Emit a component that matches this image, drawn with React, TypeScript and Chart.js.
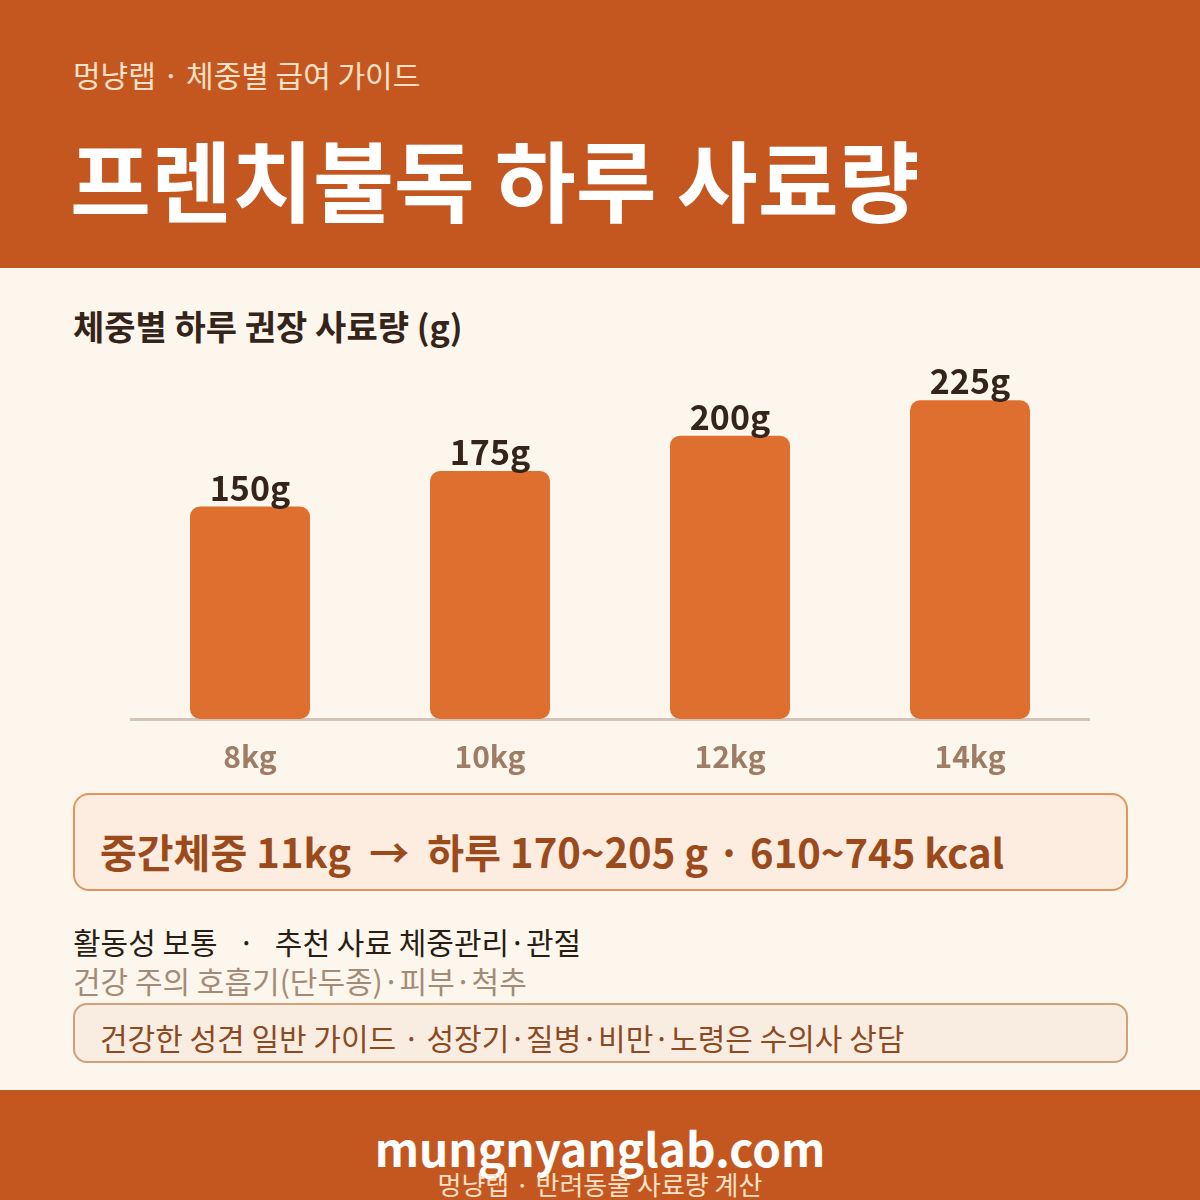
import React, { useEffect, useRef } from "react";
import { Chart, registerables } from "chart.js";

Chart.register(...registerables);

const categories = ["8kg", "10kg", "12kg", "14kg"];
const feedGrams = [150, 175, 200, 225];
const valueLabels = ["150g", "175g", "200g", "225g"];

const FONT = "'Noto Sans CJK KR', 'Noto Sans', sans-serif";

const valueLabelPlugin = {
  id: "valueLabels",
  afterDatasetsDraw(chart: any) {
    const ctx = chart.ctx;
    const meta = chart.getDatasetMeta(0);
    ctx.save();
    ctx.font = `700 34px ${FONT}`;
    ctx.fillStyle = "#35241A";
    ctx.textAlign = "center";
    ctx.textBaseline = "alphabetic";
    meta.data.forEach((bar: any, i: number) => {
      ctx.fillText(valueLabels[i], bar.x, bar.y - 6);
    });
    ctx.restore();
  },
};

function BarChart() {
  const ref = useRef<HTMLCanvasElement | null>(null);
  useEffect(() => {
    if (!ref.current) return;
    const chart = new Chart(ref.current, {
      type: "bar",
      data: {
        labels: categories,
        datasets: [
          {
            data: feedGrams,
            backgroundColor: "#DF6F2F",
            borderRadius: 10,
            borderSkipped: false,
            barPercentage: 0.5,
            categoryPercentage: 1,
          },
        ],
      },
      options: {
        responsive: false,
        animation: false,
        maintainAspectRatio: false,
        layout: { padding: 0 },
        plugins: { legend: { display: false }, tooltip: { enabled: false } },
        scales: {
          x: {
            grid: { display: false, drawTicks: false },
            border: { display: true, color: "#D5C4B5", width: 3 },
            ticks: {
              color: "#9E7C66",
              font: { family: FONT, size: 30, weight: "bold" },
              padding: 20,
            },
          },
          y: {
            display: false,
            min: 0,
            max: 300,
          },
        },
      },
      plugins: [valueLabelPlugin],
    });
    return () => chart.destroy();
  }, []);
  return (
    <canvas
      ref={ref}
      width={960}
      height={501}
      style={{ position: "absolute", left: 130, top: 294, width: 960, height: 501 }}
    />
  );
}

export default function App() {
  useEffect(() => {
    document.body.style.margin = "0";
  }, []);
  const abs = (s: React.CSSProperties): React.CSSProperties => ({
    position: "absolute",
    whiteSpace: "nowrap",
    fontFamily: FONT,
    lineHeight: 1,
    ...s,
  });
  return (
    <div
      style={{
        position: "fixed",
        left: 0,
        top: 0,
        width: 1200,
        height: 1200,
        background: "#FDF6EC",
        overflow: "hidden",
        fontFamily: FONT,
      }}
    >
      <div style={{ position: "absolute", left: 0, top: 0, width: 1200, height: 268, background: "#C4571F" }} />
      <div style={abs({ left: 73, top: 59, fontSize: 30, color: "#FCE1C6" })}>멍냥랩 · 체중별 급여 가이드</div>
      <div style={abs({ left: 70, top: 133, fontSize: 88, fontWeight: 700, color: "#FFFFFF" })}>
        프렌치불독 하루 사료량
      </div>
      <div style={abs({ left: 73, top: 309, fontSize: 34, fontWeight: 700, color: "#35241A" })}>
        체중별 하루 권장 사료량 (g)
      </div>
      <BarChart />
      <div
        style={{
          position: "absolute",
          left: 73,
          top: 793,
          width: 1055,
          height: 98,
          boxSizing: "border-box",
          border: "2px solid #E0955E",
          borderRadius: 16,
          background: "#FDECE0",
        }}
      />
      <div style={abs({ left: 100, top: 831, fontSize: 40, fontWeight: 700, color: "#9B4A1C" })}>
        중간체중 11kg &nbsp;→&nbsp; 하루 170~205 g · 610~745 kcal
      </div>
      <div style={abs({ left: 73, top: 926, fontSize: 30, color: "#2A1E14" })}>
        활동성 보통 &nbsp;&nbsp;· &nbsp;&nbsp;추천 사료 체중관리·관절
      </div>
      <div style={abs({ left: 73, top: 965, fontSize: 30, color: "#A38B78" })}>건강 주의 호흡기(단두종)·피부·척추</div>
      <div
        style={{
          position: "absolute",
          left: 73,
          top: 1003,
          width: 1055,
          height: 60,
          boxSizing: "border-box",
          border: "2px solid #CFA07C",
          borderRadius: 14,
          background: "#F9EDE2",
        }}
      />
      <div style={abs({ left: 100, top: 1022, fontSize: 30, color: "#8C4A22" })}>
        건강한 성견 일반 가이드 · 성장기·질병·비만·노령은 수의사 상담
      </div>
      <div style={{ position: "absolute", left: 0, top: 1090, width: 1200, height: 110, background: "#C4571F" }} />
      <div style={abs({ left: 0, width: 1200, textAlign: "center", top: 1124, fontSize: 46, fontWeight: 700, color: "#FFFFFF" })}>
        mungnyanglab.com
      </div>
      <div style={abs({ left: 0, width: 1200, textAlign: "center", top: 1171, fontSize: 26, color: "#FCE1C6" })}>
        멍냥랩 · 반려동물 사료량 계산
      </div>
    </div>
  );
}
